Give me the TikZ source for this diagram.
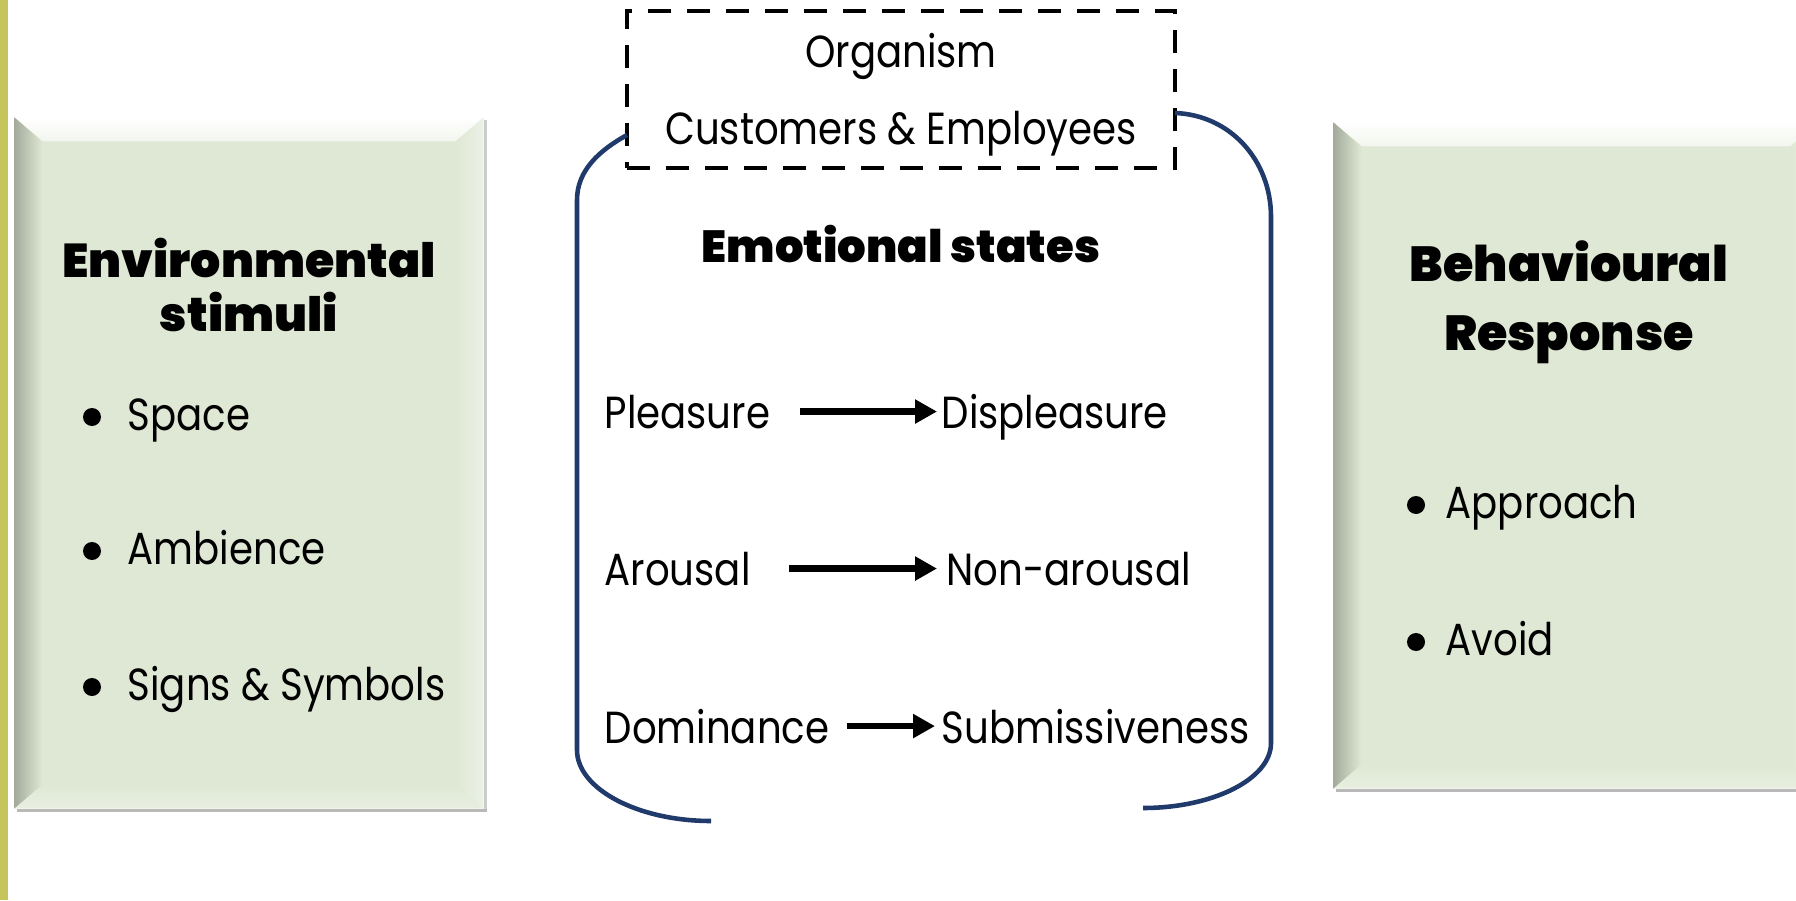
\documentclass[tikz,border=0pt]{standalone}
\usepackage{fontspec}
\setmainfont{Poppins}[FakeStretch=0.86]
\newfontfamily\headfont{Poppins Black}
\usetikzlibrary{shapes,arrows,arrows.meta,calc}

\definecolor{panelgreen}{HTML}{DFE8D4}
\definecolor{paneledge}{HTML}{A3AA9C}
\definecolor{navyline}{HTML}{1F3A6B}
\definecolor{sidebar}{HTML}{C6C55C}

\tikzstyle{panel} = [rectangle, fill=panelgreen, inner sep=0pt]
\tikzstyle{head} = [align=center, inner sep=0pt, font=\headfont\fontsize{12.8}{16}\selectfont]
\tikzstyle{item} = [anchor=base west, inner sep=0pt, font=\fontsize{12.8}{15}\selectfont]
\tikzstyle{dot} = [circle, fill=black, inner sep=0pt, minimum size=1.8mm]
\tikzstyle{line} = [draw, -{Triangle[length=2.2mm,width=2.3mm]}, line width=1.8pt]
\tikzstyle{bracket} = [draw=navyline, line width=1.3pt]
\tikzstyle{dashbox} = [rectangle, draw, dash pattern=on 2.3mm off 1.6mm, line width=1.3pt]

% bevelled edges of a panel node
\newcommand{\bevelpanel}[1]{%
    \fill[gray!55] ($(#1.south west)+(0.03,-0.03)$) rectangle ($(#1.south east)+(0.03,0)$);
    \fill[gray!40] ($(#1.north east)+(0,-0.03)$) rectangle ($(#1.south east)+(0.03,0)$);
    \shade[top color=white, bottom color=panelgreen!40!white]
        (#1.north west) -- (#1.north east) -- ($(#1.north east)+(-0.28,-0.24)$)
        -- ($(#1.north west)+(0.28,-0.24)$) -- cycle;
    \shade[left color=paneledge, right color=panelgreen]
        (#1.north west) -- ($(#1.north west)+(0.28,-0.24)$)
        -- ($(#1.south west)+(0.28,0.24)$) -- (#1.south west) -- cycle;
    \shade[top color=panelgreen, bottom color=panelgreen!70!white]
        (#1.south west) -- ($(#1.south west)+(0.28,0.24)$)
        -- ($(#1.south east)+(-0.28,0.24)$) -- (#1.south east) -- cycle;
    \shade[left color=panelgreen, right color=panelgreen!60!white]
        (#1.north east) -- ($(#1.north east)+(-0.28,-0.24)$)
        -- ($(#1.south east)+(-0.28,0.24)$) -- (#1.south east) -- cycle;
}

\begin{document}
\begin{tikzpicture}

        \useasboundingbox (0,0) rectangle (17.96,9);
        \fill[sidebar] (0,0) rectangle (0.08,9);

        % Place panels
        \node [panel, minimum width=4.68cm, minimum height=6.9cm] (stimbox) at (2.49,4.37) {};
        \node [panel, minimum width=4.84cm, minimum height=6.65cm] (respbox) at (15.76,4.445) {};
        \bevelpanel{stimbox}
        \bevelpanel{respbox}

        % Stimulus
        \node [head, font=\headfont\fontsize{13.5}{15.5}\selectfont] (stimhead) at (2.49,6.15) {Environmental\\stimuli};
        \node [item] (space) at (1.27,4.70) {Space};
        \node [item] (ambience) at (1.27,3.36) {Ambience};
        \node [item] (signs) at (1.27,2.00) {Signs \& Symbols};
        \foreach \n in {space, ambience, signs}
            \node [dot] (\n dot) at ($(\n.base west)+(-0.35,0.13)$) {};

        % Organism
        \node [dashbox, minimum width=5.48cm, minimum height=1.57cm] (organism) at (9.01,8.105) {};
        \node [item, anchor=base] (orgtitle) at (9.01,8.32) {Organism};
        \node [item, anchor=base] (orgwho) at (9.01,7.55) {Customers \& Employees};
        \draw [bracket] (6.27,7.65) .. controls (6.0,7.5) and (5.77,7.3) .. (5.77,7.0)
            -- (5.77,1.5) .. controls (5.77,1.11) and (6.38,0.79) .. (7.11,0.79);
        \draw [bracket] (11.75,7.87) .. controls (12.3,7.85) and (12.71,7.4) .. (12.71,6.83)
            -- (12.71,1.57) .. controls (12.71,1.21) and (12.13,0.92) .. (11.43,0.92);
        \node [head] (emohead) at (9.01,6.56) {Emotional states};

        \node [item] (pleasure) at (6.04,4.72) {Pleasure};
        \node [item] (displeasure) at (9.41,4.72) {Displeasure};
        \node [item] (arousal) at (6.04,3.15) {Arousal};
        \node [item] (nonarousal) at (9.46,3.15) {Non-arousal};
        \node [item] (dominance) at (6.04,1.57) {Dominance};
        \node [item] (submissive) at (9.41,1.57) {Submissiveness};

        % Draw edges
        \path [line, shorten <=2.9mm, shorten >=0.4mm] (pleasure.east) -- (pleasure.east -| displeasure.west);
        \path [line, shorten <=3.8mm, shorten >=0.9mm] (arousal.east) -- (arousal.east -| nonarousal.west);
        \path [line, shorten <=1.7mm, shorten >=0.6mm] (dominance.east) -- (dominance.east -| submissive.west);

        % Response
        \node [head, font=\headfont\fontsize{14}{19.5}\selectfont] (resphead) at (15.69,5.98) {Behavioural\\Response};
        \node [item] (approach) at (14.45,3.82) {Approach};
        \node [item] (avoid) at (14.45,2.45) {Avoid};
        \foreach \n in {approach, avoid}
            \node [dot] (\n dot) at ($(\n.base west)+(-0.29,0.13)$) {};

    \end{tikzpicture}
\end{document}
